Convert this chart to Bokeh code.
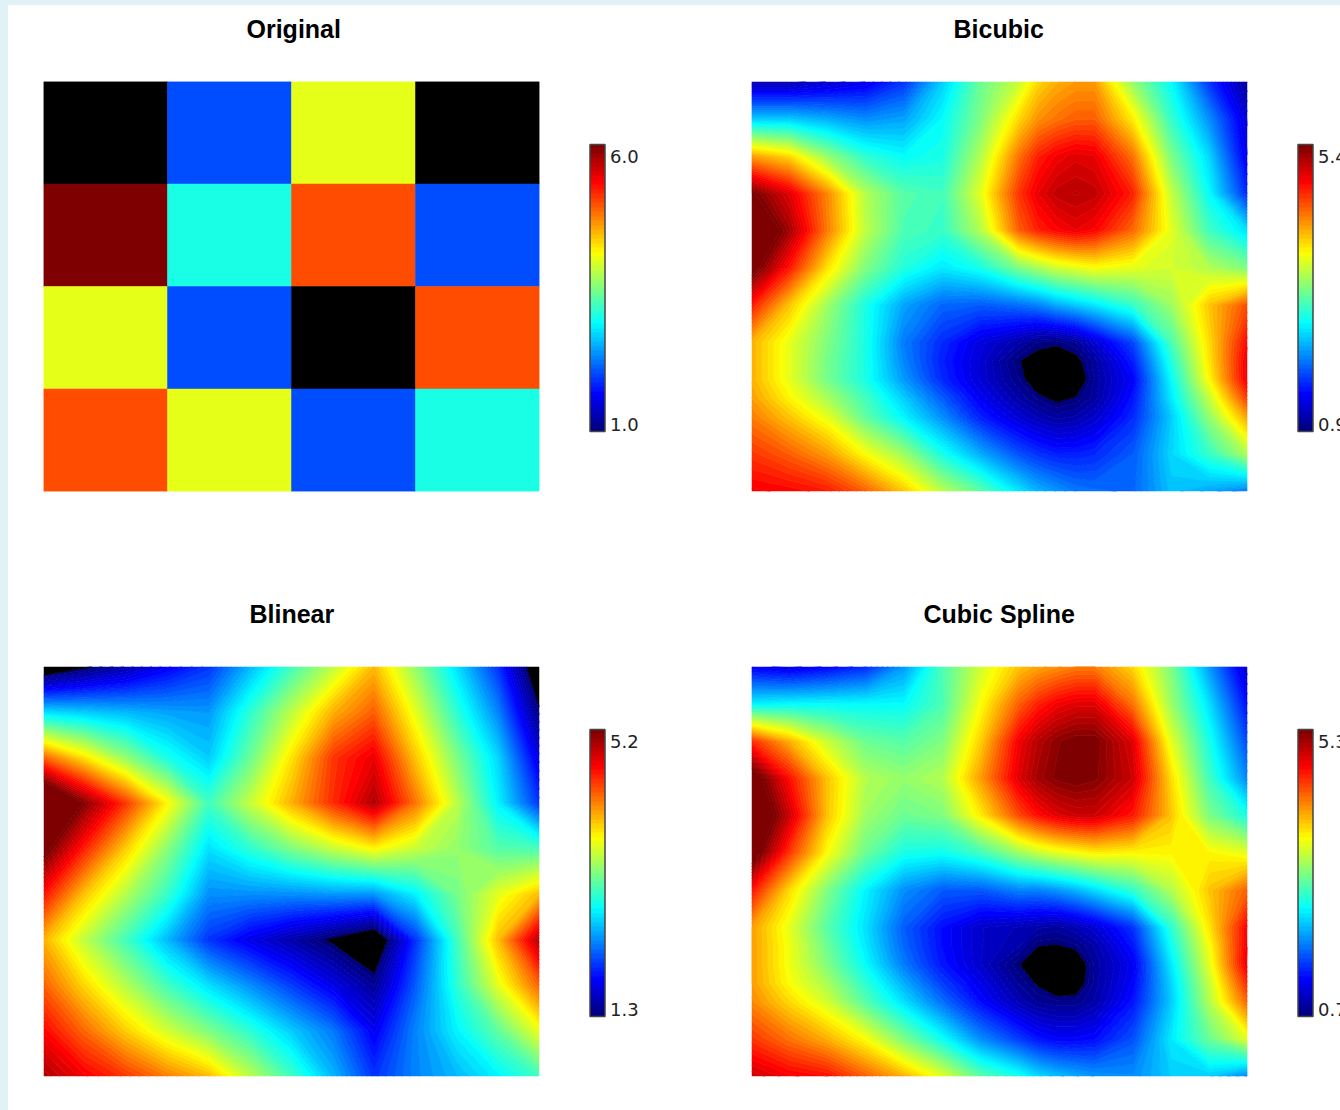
import numpy as np
from bokeh.embed import file_html
from bokeh.layouts import column, row
from bokeh.models import ColorBar, ColumnDataSource, FixedTicker, LinearColorMapper, Title
from bokeh.plotting import figure
from bokeh.resources import INLINE
from bokeh.transform import transform

TITLES = ["Original", "Bicubic", "Blinear", "Cubic Spline"]
RANGES = [(1.0, 6.0), (0.9, 5.4), (1.3, 5.2), (0.7, 5.3)]

# Original cells, top row first
ORIGINAL = [
    [1, 2, 4, 1],
    [6, 3, 5, 2],
    [4, 2, 1, 5],
    [5, 4, 2, 3],
]

# Where the readings were taken, as parts of the panel's width and height
CUBIC_COLS = [0, 114, 228, 342, 456, 570, 684, 798, 855, 912, 969, 1026, 1140, 1254, 1368, 1482]
CUBIC_ROWS = [0, 112, 223, 335, 446, 558, 669, 781, 836, 892, 948, 1004, 1115, 1227]
LINEAR_COLS = [0, 1, 2, 3, 4, 5, 6, 7, 8, 9, 10, 11, 12]
LINEAR_ROWS = [0, 1, 2, 3, 4, 5, 6, 7, 8, 9]

# As positions on each colour bar (0 = bottom, 1 = top), top row first
BICUBIC = [
    [.05, .05, .08, .11, .18, .33, .48, .57, .66, .70, .72, .72, .52, .38, .18, .03],
    [.33, .33, .30, .27, .29, .38, .50, .66, .73, .76, .78, .78, .64, .43, .27, .09],
    [.72, .66, .52, .42, .38, .40, .55, .76, .84, .88, .90, .89, .76, .50, .34, .11],
    [1.01, .90, .74, .55, .46, .44, .60, .82, .89, .93, .94, .93, .84, .57, .38, .17],
    [1.12, .96, .75, .56, .45, .43, .55, .78, .84, .87, .89, .87, .77, .60, .44, .35],
    [1.04, .85, .65, .50, .41, .36, .40, .50, .54, .58, .60, .62, .60, .58, .55, .50],
    [.85, .68, .53, .40, .29, .23, .22, .24, .26, .30, .33, .36, .43, .53, .68, .80],
    [.70, .60, .50, .40, .25, .17, .10, .05, .015, .008, .03, .09, .20, .45, .66, .87],
    [.70, .60, .49, .40, .26, .16, .09, .003, -.02, -.03, -.015, .04, .16, .41, .65, .89],
    [.70, .60, .49, .40, .28, .17, .09, .017, -.03, -.05, -.04, .036, .13, .38, .63, .89],
    [.72, .63, .54, .44, .33, .22, .12, .045, .012, -.01, .004, .04, .15, .36, .57, .82],
    [.75, .68, .60, .47, .37, .27, .16, .09, .06, .04, .05, .08, .17, .33, .52, .72],
    [.82, .78, .72, .62, .53, .40, .30, .21, .18, .16, .16, .17, .22, .34, .43, .55],
    [.88, .87, .85, .78, .68, .56, .47, .36, .31, .28, .25, .24, .23, .32, .29, .25],
]

BLINEAR = [
    [-.08, -.01, .05, .12, .18, .31, .44, .56, .69, .52, .35, .18, -.08],
    [.35, .33, .31, .29, .28, .42, .56, .70, .78, .60, .42, .26, .01],
    [.78, .65, .52, .40, .33, .48, .65, .82, .89, .68, .50, .34, .10],
    [1.2, .99, .82, .63, .44, .57, .70, .83, .95, .76, .56, .37, .18],
    [1.03, .84, .67, .51, .35, .42, .50, .57, .63, .57, .52, .46, .45],
    [.86, .68, .55, .43, .27, .27, .27, .28, .28, .37, .49, .60, .69],
    [.70, .56, .44, .31, .18, .11, .05, -.01, -.08, .18, .44, .69, .95],
    [.78, .66, .55, .44, .35, .27, .19, .11, .03, .22, .42, .60, .78],
    [.87, .77, .67, .58, .50, .42, .33, .25, .12, .26, .37, .47, .61],
    [.95, .88, .82, .75, .69, .56, .44, .31, .18, .26, .31, .37, .44],
]

CUBIC_SPLINE = [
    [.12, .10, .13, .17, .28, .45, .58, .68, .71, .73, .75, .75, .66, .50, .28, .08],
    [.37, .38, .38, .38, .38, .45, .62, .78, .84, .88, .90, .90, .76, .53, .35, .14],
    [.83, .70, .57, .48, .46, .50, .67, .88, .94, .98, 1.0, 1.0, .90, .60, .40, .20],
    [1.06, .86, .68, .55, .52, .55, .72, .90, .96, .99, 1.0, .99, .92, .66, .44, .26],
    [1.12, .92, .68, .53, .48, .50, .64, .80, .86, .90, .92, .92, .85, .68, .50, .40],
    [1.06, .82, .62, .48, .40, .39, .44, .53, .57, .60, .62, .64, .63, .63, .63, .60],
    [.86, .66, .50, .37, .27, .22, .22, .26, .26, .28, .31, .35, .43, .55, .68, .78],
    [.72, .60, .46, .35, .22, .14, .08, .06, .05, .04, .06, .09, .18, .42, .65, .88],
    [.72, .61, .48, .36, .23, .14, .08, .05, .002, -.002, .012, .05, .15, .39, .62, .89],
    [.72, .61, .50, .38, .25, .15, .08, .003, -.03, -.05, -.04, .036, .12, .36, .60, .90],
    [.72, .62, .54, .42, .30, .19, .11, .03, -.005, -.04, -.03, .038, .13, .34, .57, .84],
    [.74, .66, .58, .46, .35, .24, .14, .06, .03, .02, .02, .05, .15, .33, .55, .78],
    [.82, .76, .70, .62, .50, .39, .27, .19, .15, .13, .13, .14, .21, .36, .48, .60],
    [.92, .88, .86, .78, .70, .60, .47, .40, .35, .32, .30, .28, .27, .33, .33, .26],
]


def jet(n=64):
    out = []
    for i in range(n):
        f = i / (n - 1)
        r = np.clip(min(4 * f - 1.5, -4 * f + 4.5), 0, 1)
        g = np.clip(min(4 * f - 0.5, -4 * f + 3.5), 0, 1)
        b = np.clip(min(4 * f + 0.5, -4 * f + 2.5), 0, 1)
        out.append("#%02x%02x%02x" % (int(r * 255), int(g * 255), int(b * 255)))
    return out


JET = jet()
JET_FINE = jet(256)


def panel(idx, width, height, title_left):
    low, high = RANGES[idx]
    p = figure(width=width, height=height, output_backend="svg", toolbar_location=None,
               x_range=(0, 1), y_range=(0, 1), min_border_left=35, min_border_right=width - 35 - 496,
               min_border_top=76, min_border_bottom=height - 76 - 410)
    p.axis.visible = False
    p.grid.visible = False
    p.outline_line_color = None
    p.add_layout(Title(text=" ", text_font_size="25px", standoff=9), "above")
    p.add_layout(Title(text=TITLES[idx], align="left", offset=title_left, standoff=0,
                       text_font="Liberation Sans", text_font_style="bold",
                       text_font_size="25px", text_color="black"), "above")
    mapper = LinearColorMapper(palette=JET, low=low, high=high)

    span = high - low
    top_tick = round(high - span * 12 / 287, 3)
    bottom_tick = round(low + span * 7 / 287, 3)
    cb = ColorBar(color_mapper=mapper, width=15, height=287, location=(546.5, 60), padding=0, margin=0,
                  background_fill_alpha=0, border_line_color=None,
                  bar_line_color="#444444", bar_line_width=1.5,
                  ticker=FixedTicker(ticks=[bottom_tick, top_tick]),
                  major_tick_line_color=None, minor_tick_line_color=None,
                  major_label_overrides={bottom_tick: "%.1f" % low, top_tick: "%.1f" % high},
                  major_label_text_font="DejaVu Sans", major_label_text_font_size="18px",
                  major_label_text_color="#222222", label_standoff=5)
    p.add_layout(cb)
    return p, low, high


def draw_original(p):
    mapper = LinearColorMapper(palette=JET_FINE, low=1.0001, high=6.0, low_color="black")
    xs, ys, vals = [], [], []
    for r, line in enumerate(ORIGINAL):
        for c, v in enumerate(line):
            xs.append((c + 0.5) / 4)
            ys.append(1 - (r + 0.5) / 4)
            vals.append(v)
    src = ColumnDataSource(dict(x=xs, y=ys, v=vals))
    p.rect("x", "y", 0.25, 0.25, source=src, fill_color=transform("v", mapper),
           line_color=transform("v", mapper), line_width=0.5)


def draw_field(p, grid, cols, rows, low, high):
    z = low + (high - low) * np.flipud(np.array(grid, dtype=float))
    x = np.array(cols, dtype=float) / cols[-1]
    y = 1 - np.array(rows[::-1], dtype=float) / rows[-1]
    inner = list(np.linspace(low, high, 65))
    levels = [low - 50] + inner + [high + 50]
    fills = ["#000000"] + JET + [JET[-1]]
    lines = ["#000000"] + ["#000000"] + JET + [JET[-1]]
    p.contour(x, y, z, levels, fill_color=fills, line_color=lines, line_width=1)


p0, *_ = panel(0, 708, 585, 203)
draw_original(p0)
p1, l1, h1 = panel(1, 624, 585, 202)
draw_field(p1, BICUBIC, CUBIC_COLS, CUBIC_ROWS, l1, h1)
p2, l2, h2 = panel(2, 708, 520, 206)
draw_field(p2, BLINEAR, LINEAR_COLS, LINEAR_ROWS, l2, h2)
p3, l3, h3 = panel(3, 624, 520, 172)
draw_field(p3, CUBIC_SPLINE, CUBIC_COLS, CUBIC_ROWS, l3, h3)

layout = column(row(p0, p1, spacing=0), row(p2, p3, spacing=0), spacing=0)
html = file_html(layout, INLINE)
html = html.replace("</head>", "<style>html{background:#e0f2f5;margin:0;overflow:hidden}body{background:#ffffff;margin:5px 0 0 8px;}</style></head>", 1)
open("out.html", "w").write(html)
